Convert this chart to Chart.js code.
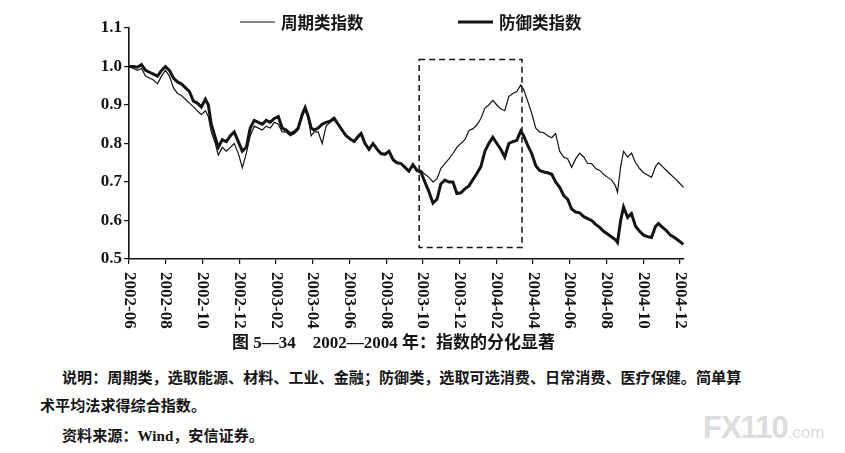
<!DOCTYPE html>
<html>
<head>
<meta charset="utf-8">
<script src="https://cdn.jsdelivr.net/npm/chart.js@4.4.1/dist/chart.umd.min.js"></script>
<style>
body { margin: 0; background: #fff; width: 845px; height: 453px; overflow: hidden; position: relative; }
#wrap { position: absolute; left: 0; top: 0; width: 845px; height: 335px; }
.t { position: absolute; white-space: nowrap; color: #141414; font-family: "Liberation Serif", "Noto Sans CJK SC", serif; }
#cap { left: 232px; top: 334px; font-size: 17px; line-height: 18px; font-weight: bold; }
.note { font-size: 15.1px; line-height: 16px; font-weight: bold; }
#wm { left: 703px; top: 410px; color: #dcdcdc; font-family: "Liberation Sans", sans-serif; font-weight: bold; letter-spacing: -1px; }
</style>
</head>
<body>
<div id="wrap"><canvas id="c" width="845" height="335"></canvas></div>
<div class="t" id="cap">图 5—34&nbsp;&nbsp;&nbsp;&nbsp;2002—2004 年：指数的分化显著</div>
<div class="t note" style="left:62px;top:370px">说明：周期类，选取能源、材料、工业、金融；防御类，选取可选消费、日常消费、医疗保健。简单算</div>
<div class="t note" style="left:40px;top:398px">术平均法求得综合指数。</div>
<div class="t note" style="left:62px;top:428px">资料来源：Wind，安信证券。</div>
<div class="t" id="wm"><span style="font-size:31px">FX110</span><span style="font-size:17px;font-weight:normal;letter-spacing:0">.com</span></div>
<script>
// months since 2002-06
const months = [
  0.00, 0.24, 0.46, 0.68, 0.90, 1.11, 1.33, 1.55, 1.77, 1.98,
  2.20, 2.42, 2.64, 2.85, 3.07, 3.29, 3.51, 3.72, 3.94, 4.16,
  4.32, 4.48, 4.70, 4.86, 5.08, 5.30, 5.52, 5.73, 5.95, 6.17,
  6.39, 6.60, 6.82, 7.04, 7.26, 7.47, 7.69, 7.91, 8.13, 8.34,
  8.56, 8.78, 9.00, 9.21, 9.43, 9.59, 9.76, 9.92, 10.08, 10.30,
  10.52, 10.73, 10.95, 11.17, 11.39, 11.60, 11.82, 12.04, 12.26, 12.47,
  12.64, 12.85, 13.07, 13.29, 13.51, 13.72, 13.94, 14.16, 14.38, 14.59,
  14.81, 15.03, 15.24, 15.46, 15.68, 15.90, 16.11, 16.33, 16.55, 16.77,
  16.98, 17.20, 17.42, 17.64, 17.85, 18.07, 18.29, 18.51, 18.72, 18.94,
  19.16, 19.38, 19.59, 19.81, 20.03, 20.24, 20.46, 20.68, 20.90, 21.11,
  21.33, 21.49, 21.71, 21.93, 22.15, 22.36, 22.58, 22.80, 23.02, 23.23,
  23.45, 23.67, 23.89, 24.10, 24.32, 24.54, 24.76, 24.97, 25.19, 25.41,
  25.63, 25.84, 26.06, 26.28, 26.49, 26.60, 26.77, 26.93, 27.15, 27.36,
  27.58, 27.80, 28.02, 28.23, 28.45, 28.67, 28.83, 29.05, 29.26, 29.48,
  29.70, 29.92, 30.19
];
const cyclical = [
  1.000, 0.995, 0.990, 0.995, 0.975, 0.970, 0.965, 0.955, 0.975, 0.990,
  0.975, 0.945, 0.930, 0.925, 0.915, 0.905, 0.895, 0.885, 0.875, 0.885,
  0.870, 0.830, 0.800, 0.770, 0.790, 0.780, 0.790, 0.800, 0.775, 0.737,
  0.775, 0.820, 0.845, 0.840, 0.835, 0.845, 0.840, 0.855, 0.850, 0.830,
  0.830, 0.820, 0.825, 0.835, 0.870, 0.890, 0.865, 0.820, 0.830, 0.830,
  0.800, 0.845, 0.855, 0.862, 0.850, 0.835, 0.820, 0.810, 0.805, 0.815,
  0.826, 0.800, 0.785, 0.800, 0.785, 0.774, 0.772, 0.780, 0.758, 0.750,
  0.748, 0.740, 0.728, 0.745, 0.730, 0.730, 0.720, 0.712, 0.700, 0.708,
  0.735, 0.748, 0.760, 0.774, 0.790, 0.800, 0.810, 0.834, 0.838, 0.848,
  0.865, 0.892, 0.900, 0.912, 0.900, 0.890, 0.885, 0.922, 0.930, 0.935,
  0.952, 0.940, 0.910, 0.878, 0.840, 0.830, 0.828, 0.820, 0.815, 0.826,
  0.780, 0.765, 0.760, 0.738, 0.760, 0.775, 0.765, 0.748, 0.748, 0.735,
  0.730, 0.720, 0.712, 0.705, 0.690, 0.673, 0.740, 0.780, 0.765, 0.775,
  0.750, 0.735, 0.724, 0.718, 0.712, 0.740, 0.750, 0.740, 0.730, 0.720,
  0.710, 0.700, 0.686
];
const defensive = [
  1.000, 1.000, 0.998, 1.005, 0.990, 0.985, 0.980, 0.975, 0.990, 1.000,
  0.990, 0.970, 0.960, 0.955, 0.945, 0.935, 0.910, 0.905, 0.895, 0.915,
  0.900, 0.850, 0.815, 0.790, 0.810, 0.805, 0.820, 0.830, 0.805, 0.780,
  0.790, 0.840, 0.860, 0.855, 0.850, 0.860, 0.855, 0.865, 0.870, 0.840,
  0.835, 0.825, 0.830, 0.840, 0.875, 0.893, 0.870, 0.840, 0.835, 0.840,
  0.850, 0.855, 0.858, 0.866, 0.850, 0.835, 0.820, 0.812, 0.805, 0.818,
  0.826, 0.800, 0.785, 0.800, 0.785, 0.774, 0.772, 0.780, 0.758, 0.750,
  0.748, 0.738, 0.728, 0.745, 0.730, 0.725, 0.700, 0.675, 0.645, 0.655,
  0.695, 0.705, 0.700, 0.700, 0.670, 0.672, 0.682, 0.690, 0.706, 0.722,
  0.740, 0.780, 0.800, 0.816, 0.800, 0.785, 0.765, 0.800, 0.805, 0.808,
  0.832, 0.820, 0.795, 0.774, 0.742, 0.730, 0.726, 0.724, 0.720, 0.700,
  0.686, 0.665, 0.655, 0.630, 0.622, 0.620, 0.610, 0.605, 0.600, 0.590,
  0.582, 0.572, 0.565, 0.557, 0.550, 0.543, 0.600, 0.635, 0.608, 0.618,
  0.585, 0.572, 0.562, 0.558, 0.556, 0.585, 0.592, 0.582, 0.574, 0.562,
  0.556, 0.548, 0.538
];
const tickMonths = [0, 2, 4, 6, 8, 10, 12, 14, 16, 18, 20, 22, 24, 26, 28, 30];
const tickLabels = ['2002-06', '2002-08', '2002-10', '2002-12', '2003-02', '2003-04', '2003-06', '2003-08',
  '2003-10', '2003-12', '2004-02', '2004-04', '2004-06', '2004-08', '2004-10', '2004-12'];
const yTicks = [0.5, 0.6, 0.7, 0.8, 0.9, 1.0, 1.1];
const seriesNames = ['周期类指数', '防御类指数'];
// dashed highlight box (months, index values)
const boxMonths = [15.8, 21.4];
const boxValues = [0.53, 1.018];

const ink = '#141414';

const decor = {
  id: 'decor',
  afterDraw(chart) {
    const ctx = chart.ctx, xs = chart.scales.x, ys = chart.scales.y, area = chart.chartArea;
    ctx.save();
    // x tick labels, rotated clockwise
    ctx.fillStyle = ink;
    ctx.font = 'bold 17px "Liberation Serif"';
    ctx.textAlign = 'left';
    ctx.textBaseline = 'middle';
    tickMonths.forEach((m, i) => {
      ctx.save();
      ctx.translate(xs.getPixelForValue(m), area.bottom + 13);
      ctx.rotate(Math.PI / 2);
      ctx.fillText(tickLabels[i], 0, 0);
      ctx.restore();
    });
    // dashed box
    const x1 = xs.getPixelForValue(boxMonths[0]), x2 = xs.getPixelForValue(boxMonths[1]);
    const y1 = ys.getPixelForValue(boxValues[1]), y2 = ys.getPixelForValue(boxValues[0]);
    ctx.strokeStyle = ink;
    ctx.lineWidth = 1.5;
    ctx.setLineDash([6, 4]);
    ctx.strokeRect(x1, y1, x2 - x1, y2 - y1);
    ctx.setLineDash([]);
    // legend
    const legendY = 22;
    const items = [{ x: 240, w: 1.2 }, { x: 458, w: 3 }];
    ctx.font = 'bold 16.5px "Noto Sans CJK SC"';
    items.forEach((it, i) => {
      ctx.lineWidth = it.w;
      ctx.beginPath();
      ctx.moveTo(it.x, legendY);
      ctx.lineTo(it.x + 35, legendY);
      ctx.stroke();
      ctx.fillText(seriesNames[i], it.x + 41, legendY + 1);
    });
    ctx.restore();
  }
};

new Chart(document.getElementById('c'), {
  type: 'line',
  data: {
    datasets: [
      {
        label: seriesNames[0],
        data: months.map((m, i) => ({ x: m, y: cyclical[i] })),
        borderColor: ink, borderWidth: 1.2, pointRadius: 0, tension: 0
      },
      {
        label: seriesNames[1],
        data: months.map((m, i) => ({ x: m, y: defensive[i] })),
        borderColor: ink, borderWidth: 3, pointRadius: 0, tension: 0
      }
    ]
  },
  options: {
    responsive: false,
    animation: false,
    layout: { padding: { left: 0, right: 161, top: 28, bottom: 71 } },
    plugins: { legend: { display: false }, tooltip: { enabled: false } },
    scales: {
      x: {
        type: 'linear', min: 0, max: 30.22,
        afterBuildTicks: s => { s.ticks = tickMonths.map(v => ({ value: v })); },
        ticks: { display: false },
        grid: { drawOnChartArea: false, drawTicks: true, tickLength: 5, color: ink, lineWidth: 1.2 },
        border: { display: true, color: ink, width: 1.6 }
      },
      y: {
        min: 0.5, max: 1.1,
        afterBuildTicks: s => { s.ticks = yTicks.map(v => ({ value: v })); },
        afterFit: s => { s.width = 129; },
        ticks: {
          color: ink, padding: 2,
          font: { family: 'Liberation Serif', size: 17, weight: 'bold' },
          callback: v => v.toFixed(1)
        },
        grid: { drawOnChartArea: false, drawTicks: true, tickLength: 5, color: ink, lineWidth: 1.2 },
        border: { display: true, color: ink, width: 1.6 }
      }
    }
  },
  plugins: [decor]
});
</script>
</body>
</html>
